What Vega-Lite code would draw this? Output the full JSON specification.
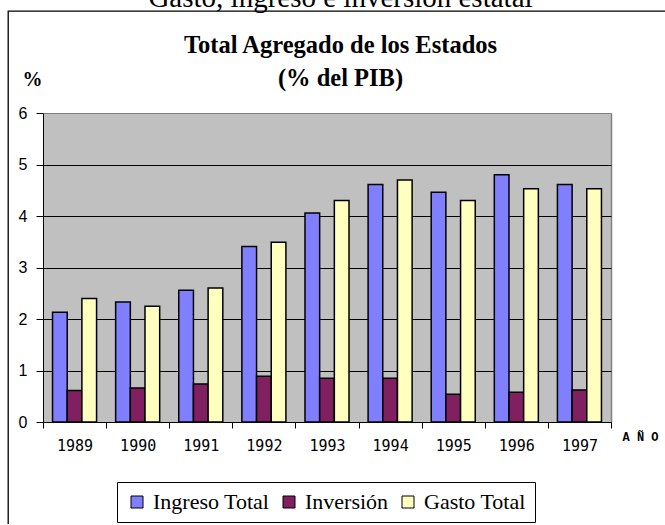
{
  "$schema": "https://vega.github.io/schema/vega-lite/v6.json",
  "autosize": "none",
  "padding": {"left": 8, "top": 11, "right": 0, "bottom": 0},
  "width": 665,
  "height": 513,
  "background": "white",
  "view": {"fill": "white", "stroke": "black", "strokeWidth": 1.3, "strokeDash": [1178, 665, 513, 0]},
  "title": {
    "text": "Gasto, ingreso e inversión estatal",
    "subtitle": ["Total Agregado de los Estados", "(% del PIB)"],
    "anchor": "middle",
    "frame": "group",
    "offset": -79.5,
    "font": "Liberation Serif",
    "fontSize": 29,
    "fontWeight": "normal",
    "color": "black",
    "subtitleFont": "Liberation Serif",
    "subtitleFontSize": 24.5,
    "subtitleFontWeight": "bold",
    "subtitleColor": "black",
    "subtitleLineHeight": 33,
    "subtitlePadding": 21.5
  },
  "data": {
    "values": [
      {"year": 1989, "serie": "Ingreso Total", "valor": 2.13},
      {"year": 1989, "serie": "Inversión", "valor": 0.61},
      {"year": 1989, "serie": "Gasto Total", "valor": 2.40},
      {"year": 1990, "serie": "Ingreso Total", "valor": 2.33},
      {"year": 1990, "serie": "Inversión", "valor": 0.66},
      {"year": 1990, "serie": "Gasto Total", "valor": 2.25},
      {"year": 1991, "serie": "Ingreso Total", "valor": 2.56},
      {"year": 1991, "serie": "Inversión", "valor": 0.74},
      {"year": 1991, "serie": "Gasto Total", "valor": 2.60},
      {"year": 1992, "serie": "Ingreso Total", "valor": 3.41},
      {"year": 1992, "serie": "Inversión", "valor": 0.89},
      {"year": 1992, "serie": "Gasto Total", "valor": 3.49},
      {"year": 1993, "serie": "Ingreso Total", "valor": 4.06},
      {"year": 1993, "serie": "Inversión", "valor": 0.85},
      {"year": 1993, "serie": "Gasto Total", "valor": 4.30},
      {"year": 1994, "serie": "Ingreso Total", "valor": 4.61},
      {"year": 1994, "serie": "Inversión", "valor": 0.85},
      {"year": 1994, "serie": "Gasto Total", "valor": 4.70},
      {"year": 1995, "serie": "Ingreso Total", "valor": 4.46},
      {"year": 1995, "serie": "Inversión", "valor": 0.54},
      {"year": 1995, "serie": "Gasto Total", "valor": 4.30},
      {"year": 1996, "serie": "Ingreso Total", "valor": 4.80},
      {"year": 1996, "serie": "Inversión", "valor": 0.58},
      {"year": 1996, "serie": "Gasto Total", "valor": 4.53},
      {"year": 1997, "serie": "Ingreso Total", "valor": 4.61},
      {"year": 1997, "serie": "Inversión", "valor": 0.62},
      {"year": 1997, "serie": "Gasto Total", "valor": 4.53}
    ]
  },
  "mark": {"type": "bar", "stroke": "black", "strokeWidth": 1.5},
  "encoding": {
    "x": {
      "field": "year",
      "type": "ordinal",
      "scale": {"range": [35, 603], "paddingInner": 0, "paddingOuter": 0},
      "axis": {
        "orient": "bottom",
        "offset": -102,
        "tickBand": "extent",
        "domainColor": "black",
        "domainWidth": 1,
        "tickColor": "black",
        "tickSize": 6,
        "labelFont": "DejaVu Sans Mono",
        "labelFontSize": 15,
        "labelColor": "black",
        "labelPadding": 10,
        "labelAngle": 0,
        "grid": true,
        "gridCap": "butt",
        "gridColor": {"condition": [{"test": "datum.extra", "value": "#C0C0C0"}, {"test": "datum.value == 1997", "value": "#808080"}], "value": "#C0C0C0"},
        "gridOpacity": {"condition": {"test": "datum.extra", "value": 0}, "value": 1},
        "gridWidth": {"condition": [{"test": "datum.extra", "value": 0.01}, {"test": "datum.value == 1989 || datum.value == 1996", "value": 126.2}, {"test": "datum.value == 1997", "value": 1.5}], "value": 68},
        "title": "A Ñ O",
        "titleX": 614,
        "titleY": 18,
        "titleAlign": "left",
        "titleBaseline": "alphabetic",
        "titleFont": "Liberation Mono",
        "titleFontSize": 12,
        "titleFontWeight": "bold",
        "titleColor": "black"
      }
    },
    "xOffset": {
      "field": "serie",
      "type": "nominal",
      "scale": {"domain": ["Ingreso Total", "Inversión", "Gasto Total"], "paddingInner": 0, "paddingOuter": 0.65}
    },
    "y": {
      "field": "valor",
      "type": "quantitative",
      "scale": {"domain": [0, 6], "range": [411, 102], "nice": false, "zero": true},
      "axis": {
        "orient": "left",
        "offset": -35,
        "values": [0, 1, 2, 3, 4, 5, 6],
        "grid": true,
        "gridColor": {"condition": {"test": "datum.value == 6", "value": "#808080"}, "value": "black"},
        "gridWidth": 1,
        "domainColor": "black",
        "domainWidth": 1,
        "tickColor": "black",
        "tickSize": 7,
        "labelFont": "Liberation Sans",
        "labelFontSize": 16,
        "labelColor": "black",
        "labelPadding": 9,
        "title": "%",
        "titleAngle": 0,
        "titleX": -21,
        "titleY": 74,
        "titleAlign": "left",
        "titleBaseline": "alphabetic",
        "titleFont": "Liberation Serif",
        "titleFontSize": 20,
        "titleFontWeight": "bold",
        "titleColor": "black"
      }
    },
    "color": {
      "field": "serie",
      "type": "nominal",
      "scale": {"domain": ["Ingreso Total", "Inversión", "Gasto Total"], "range": ["#8080FF", "#802060", "#FFFFC0"]},
      "legend": {
        "orient": "none",
        "legendX": 109,
        "legendY": 471,
        "direction": "horizontal",
        "title": null,
        "symbolType": "square",
        "symbolSize": 144,
        "symbolStrokeColor": "black",
        "symbolStrokeWidth": 1,
        "symbolOpacity": 1,
        "labelFont": "Liberation Serif",
        "labelFontSize": 22,
        "labelColor": "black",
        "labelOffset": 5,
        "labelLimit": 300,
        "columnPadding": 8,
        "padding": 9,
        "strokeColor": "black",
        "fillColor": "white"
      }
    }
  }
}
